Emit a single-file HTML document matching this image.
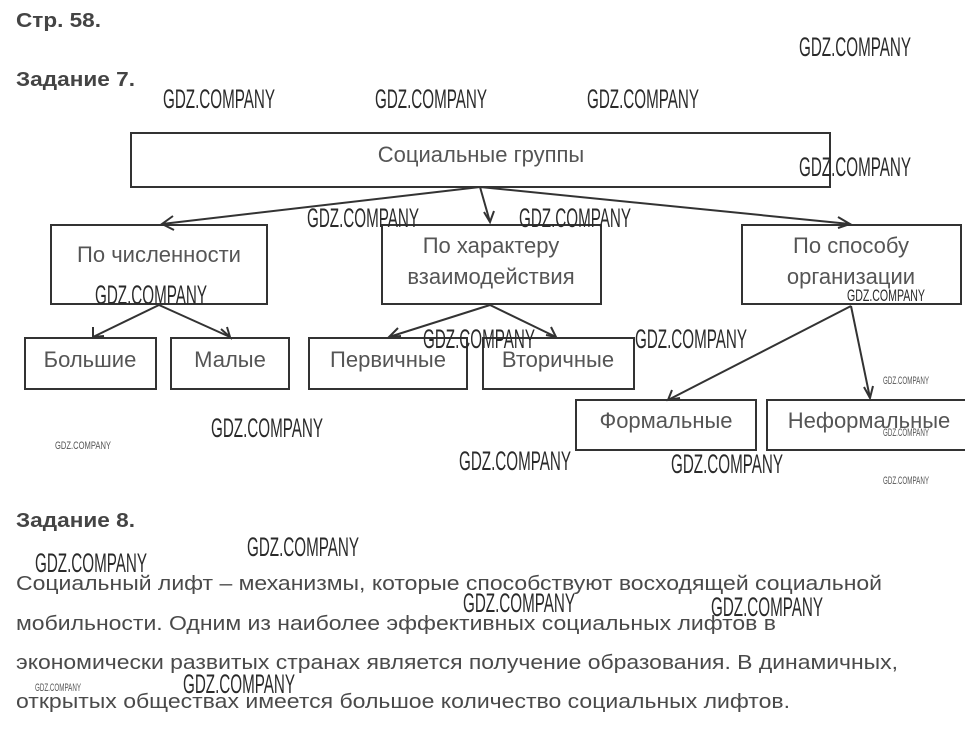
<!DOCTYPE html>
<html><head><meta charset="utf-8"><style>
html,body{margin:0;padding:0;background:#fff;}
svg{display:block;}
.t{font-family:"Liberation Sans",sans-serif;font-size:20px;fill:#4a4a4a;}
.d{font-family:"Liberation Sans",sans-serif;font-size:22px;fill:#555;}
.b{font-family:"Liberation Sans",sans-serif;font-size:20px;font-weight:bold;fill:#444;}
.w{font-family:"Liberation Sans",sans-serif;font-size:27px;fill:#2a2a2a;}
.ws{font-family:"Liberation Sans",sans-serif;font-size:17px;fill:#2a2a2a;}
.wx{font-family:"Liberation Sans",sans-serif;font-size:11px;fill:#555;}
</style></head><body>
<svg width="973" height="729" viewBox="0 0 973 729" xmlns="http://www.w3.org/2000/svg">
<g class="b">
<text x="16" y="27" textLength="85" lengthAdjust="spacingAndGlyphs">Стр. 58.</text>
<text x="16" y="86" textLength="119" lengthAdjust="spacingAndGlyphs">Задание 7.</text>
<text x="16" y="527" textLength="119" lengthAdjust="spacingAndGlyphs">Задание 8.</text>
</g>
<g fill="none" stroke="#333" stroke-width="2">
<rect x="131" y="133" width="699" height="54"/>
<rect x="51" y="225" width="216" height="79"/>
<rect x="382" y="225" width="219" height="79"/>
<rect x="742" y="225" width="219" height="79"/>
<rect x="25" y="338" width="131" height="51"/>
<rect x="171" y="338" width="118" height="51"/>
<rect x="309" y="338" width="158" height="51"/>
<rect x="483" y="338" width="151" height="51"/>
<rect x="576" y="400" width="180" height="50"/>
<path d="M965 400 H767 V450 H965"/>
<path d="M480 187 L162 224 M480 187 L490 222 M480 187 L850 224"/>
<path d="M159 305 L93 337 M159 305 L230 337"/>
<path d="M490 305 L389 337 M490 305 L556 337"/>
<path d="M851 306 L668 400 M851 306 L870 398"/>
<path d="M173 216 L162 224 L174 230"/>
<path d="M484 212 L490 222 L494 211"/>
<path d="M838 217 L850 224 L838 228"/>
<path d="M93 327 L93 337 L104 336"/>
<path d="M221 329 L230 337 L227 327"/>
<path d="M398 328 L389 337 L401 336"/>
<path d="M546 335 L556 337 L551 327"/>
<path d="M672 390 L668 400 L680 398"/>
<path d="M864 387 L870 398 L873 386"/>
</g>
<g class="d" text-anchor="middle">
<text x="481" y="162">Социальные группы</text>
<text x="159" y="262">По численности</text>
<text x="491" y="253">По характеру</text>
<text x="491" y="284">взаимодействия</text>
<text x="851" y="253">По способу</text>
<text x="851" y="284">организации</text>
<text x="90" y="367">Большие</text>
<text x="230" y="367">Малые</text>
<text x="388" y="367">Первичные</text>
<text x="558" y="367">Вторичные</text>
<text x="666" y="428">Формальные</text>
<text x="869" y="428">Неформальные</text>
</g>
<g class="t">
<text x="16" y="590" textLength="866" lengthAdjust="spacingAndGlyphs">Социальный лифт – механизмы, которые способствуют восходящей социальной</text>
<text x="16" y="630" textLength="760" lengthAdjust="spacingAndGlyphs">мобильности. Одним из наиболее эффективных социальных лифтов в</text>
<text x="16" y="669" textLength="882" lengthAdjust="spacingAndGlyphs">экономически развитых странах является получение образования. В динамичных,</text>
<text x="16" y="708" textLength="774" lengthAdjust="spacingAndGlyphs">открытых обществах имеется большое количество социальных лифтов.</text>
</g>
<g class="w">
<text x="163" y="108" textLength="112" lengthAdjust="spacingAndGlyphs">GDZ.COMPANY</text>
<text x="375" y="108" textLength="112" lengthAdjust="spacingAndGlyphs">GDZ.COMPANY</text>
<text x="587" y="108" textLength="112" lengthAdjust="spacingAndGlyphs">GDZ.COMPANY</text>
<text x="799" y="56" textLength="112" lengthAdjust="spacingAndGlyphs">GDZ.COMPANY</text>
<text x="799" y="176" textLength="112" lengthAdjust="spacingAndGlyphs">GDZ.COMPANY</text>
<text x="307" y="227" textLength="112" lengthAdjust="spacingAndGlyphs">GDZ.COMPANY</text>
<text x="519" y="227" textLength="112" lengthAdjust="spacingAndGlyphs">GDZ.COMPANY</text>
<text x="95" y="304" textLength="112" lengthAdjust="spacingAndGlyphs">GDZ.COMPANY</text>
<text x="423" y="348" textLength="112" lengthAdjust="spacingAndGlyphs">GDZ.COMPANY</text>
<text x="635" y="348" textLength="112" lengthAdjust="spacingAndGlyphs">GDZ.COMPANY</text>
<text x="211" y="437" textLength="112" lengthAdjust="spacingAndGlyphs">GDZ.COMPANY</text>
<text x="459" y="470" textLength="112" lengthAdjust="spacingAndGlyphs">GDZ.COMPANY</text>
<text x="671" y="473" textLength="112" lengthAdjust="spacingAndGlyphs">GDZ.COMPANY</text>
<text x="35" y="572" textLength="112" lengthAdjust="spacingAndGlyphs">GDZ.COMPANY</text>
<text x="247" y="556" textLength="112" lengthAdjust="spacingAndGlyphs">GDZ.COMPANY</text>
<text x="463" y="612" textLength="112" lengthAdjust="spacingAndGlyphs">GDZ.COMPANY</text>
<text x="711" y="616" textLength="112" lengthAdjust="spacingAndGlyphs">GDZ.COMPANY</text>
<text x="183" y="693" textLength="112" lengthAdjust="spacingAndGlyphs">GDZ.COMPANY</text>
</g>
<text class="ws" x="847" y="301" textLength="78" lengthAdjust="spacingAndGlyphs">GDZ.COMPANY</text>
<g class="wx">
<text x="883" y="384" textLength="46" lengthAdjust="spacingAndGlyphs">GDZ.COMPANY</text>
<text x="883" y="436" textLength="46" lengthAdjust="spacingAndGlyphs">GDZ.COMPANY</text>
<text x="883" y="484" textLength="46" lengthAdjust="spacingAndGlyphs">GDZ.COMPANY</text>
<text x="55" y="449" textLength="56" lengthAdjust="spacingAndGlyphs">GDZ.COMPANY</text>
<text x="35" y="691" textLength="46" lengthAdjust="spacingAndGlyphs">GDZ.COMPANY</text>
</g>
</svg>
</body></html>
